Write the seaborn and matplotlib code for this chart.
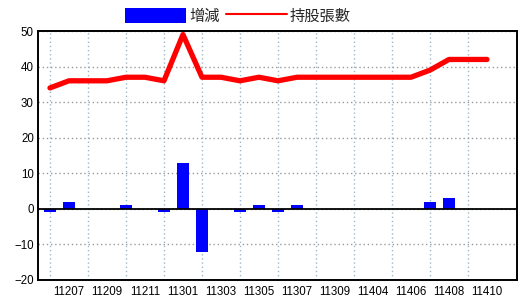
import matplotlib
matplotlib.use("Agg")
import matplotlib.pyplot as plt
import seaborn as sns
import pandas as pd
from matplotlib.patches import Patch
from matplotlib.lines import Line2D

months = ["11206", "11207", "11208", "11209", "11210", "11211", "11212",
          "11301", "11302", "11303", "11304", "11305", "11306", "11307",
          "11308", "11309", "11310", "11404", "11405", "11406", "11407",
          "11408", "11409", "11410"]
change = [-1, 2, 0, 0, 1, 0, -1, 13, -12, 0, -1, 1, -1, 1,
          0, 0, 0, 0, 0, 0, 2, 3, 0, 0]
holders = [34, 36, 36, 36, 37, 37, 36, 49, 37, 37, 36, 37, 36, 37,
           37, 37, 37, 37, 37, 37, 39, 42, 42, 42]
shown_labels = ["11207", "11209", "11211", "11301", "11303", "11305",
                "11307", "11309", "11404", "11406", "11408", "11410"]
legend_labels = ["增減", "持股張數"]

df = pd.DataFrame({"month": months, "change": change, "holders": holders,
                   "idx": range(len(months))})

sns.set_style("white")
plt.rcParams["font.family"] = ["Noto Sans CJK TC", "DejaVu Sans"]

fig = plt.figure(figsize=(5.2, 3.0), dpi=100)
ax = fig.add_axes([38 / 520, 1 - 280 / 300, (517 - 38) / 520, (280 - 31) / 300])

sns.barplot(data=df, x="month", y="change", order=months, color="#0000FF",
            saturation=1, width=0.63, ax=ax, zorder=3, edgecolor="none", linewidth=0)
sns.lineplot(data=df, x="idx", y="holders", color="#FF0000", linewidth=3.8,
             ax=ax, zorder=4, solid_capstyle="round")

ax.axhline(0, color="black", linewidth=1.3, zorder=5)

ax.set_xlim(-0.63, 24.58)
ax.set_ylim(-20, 50)
ax.set_yticks(range(-20, 51, 10))
ax.set_xticks([months.index(m) for m in shown_labels])
ax.set_xticklabels(shown_labels)
ax.set_xticks(list(range(0, 23, 2)), minor=True)
ax.set_xlabel("")
ax.set_ylabel("")

ax.grid(False)
ax.yaxis.grid(True, color="#999999", linestyle=(0, (1, 2)), linewidth=1)
ax.xaxis.grid(True, which="minor", color="#9ab8cc", linestyle=(0, (1, 2)), linewidth=1)
ax.set_axisbelow(True)

ax.tick_params(axis="both", which="both", length=0, labelsize=8.3, colors="black")
ax.tick_params(axis="x", pad=4)
ax.tick_params(axis="y", pad=3)
for lab in ax.get_xticklabels() + ax.get_yticklabels():
    lab.set_family("Liberation Sans")

for s in ax.spines.values():
    s.set_visible(True)
    s.set_color("black")
    s.set_linewidth(1.4)

handles = [Patch(facecolor="#0000FF", edgecolor="none"),
           Line2D([0], [0], color="#FF0000", linewidth=1.5)]
fig.legend(handles, legend_labels, loc="center", bbox_to_anchor=(238 / 520, 1 - 16 / 300),
           ncol=2, frameon=False, fontsize=11, handlelength=4.0, handleheight=1.1,
           handletextpad=0.2, columnspacing=0.4, borderpad=0)

fig.savefig("out.png", dpi=100)
